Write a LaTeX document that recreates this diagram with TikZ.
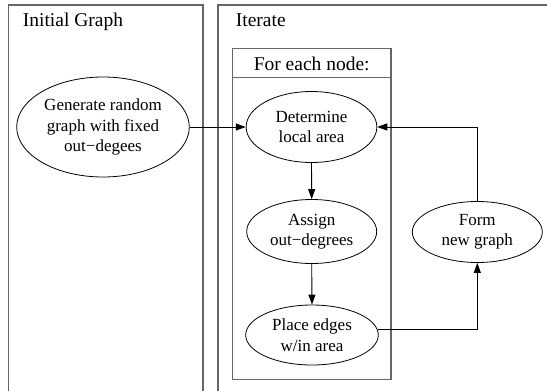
\documentclass[tikz,border=0pt]{standalone}
\usepackage{fontspec}
\setmainfont{Liberation Serif}
\usetikzlibrary{shapes.geometric,arrows.meta}
\begin{document}
\begin{tikzpicture}[x=1pt,y=-1pt,
  cluster/.style={draw=black!60,line width=1.1pt},
  proc/.style={draw,ellipse,line width=0.8pt,inner sep=0pt,align=center,
    font=\fontsize{17}{20.5}\selectfont},
  title/.style={font=\fontsize{19.5}{22}\selectfont,inner sep=0pt},
  flow/.style={draw,line width=0.9pt,-{Triangle[length=10pt,width=7pt]}}]
\useasboundingbox (0,0) rectangle (547,391);
\clip (0,0) rectangle (547,391);
% outer clusters
\draw[cluster] (8.5,400) -- (8.5,5) -- (203,5) -- (203,400);
\draw[cluster] (218,400) -- (218,5) -- (560,5);
\node[title,anchor=base west] (t1) at (22.7,26.7) {Initial Graph};
\node[title,anchor=base west] (t2) at (235.7,26.7) {Iterate};
% inner cluster
\draw[cluster] (232.3,48.3) rectangle (391,379.3);
\draw[cluster] (232.3,77.3) -- (391,77.3);
\node[title,anchor=base] (t3) at (311.7,70) {For each node:};
% nodes
\node[proc,minimum width=172.6pt,minimum height=100pt] (gen) at (103,127)
  {Generate random\\graph with fixed\\out−degees};
\node[proc,minimum width=130.7pt,minimum height=71pt] (det) at (311.5,127)
  {Determine\\local area};
\node[proc,minimum width=130pt,minimum height=64pt] (asg) at (311.7,231.5)
  {Assign\\out−degrees};
\node[proc,minimum width=132.6pt,minimum height=60pt] (plc) at (312,335)
  {Place edges\\w/in area};
\node[proc,minimum width=130pt,minimum height=61pt] (frm) at (477.3,232)
  {Form\\new graph};
% edges
\draw[flow] (gen.east) -- (det.west);
\draw[flow] (det.south) -- (asg.north);
\draw[flow] (asg.south) -- (plc.north);
\draw[flow] (plc.5.3) -- (plc.5.3 -| frm.south) -- (frm.south);
\draw[flow] (frm.north) -- (frm.north |- det.east) -- (det.east);
\end{tikzpicture}
\end{document}
